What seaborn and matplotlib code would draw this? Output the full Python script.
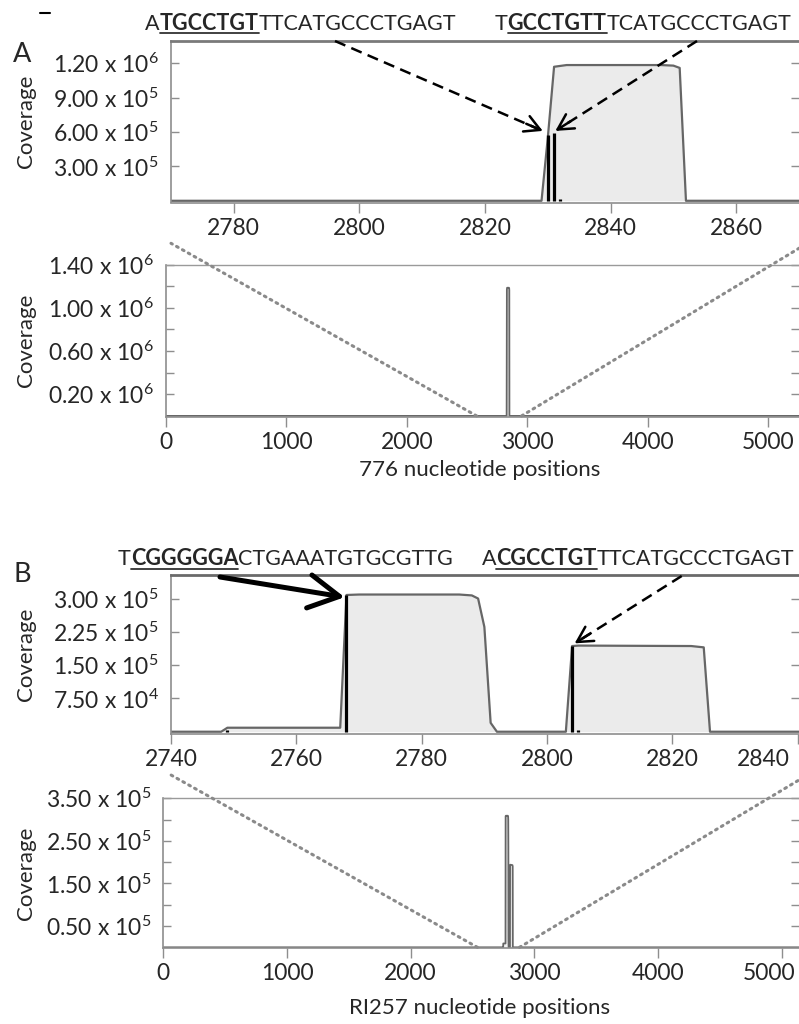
import numpy as np
import pandas as pd
import seaborn as sns
import matplotlib.pyplot as plt
from matplotlib.lines import Line2D

# ---------------- data ----------------
# Panel A (776): coverage near the 5' end and 5'-end read counts
a_cov_pos = [2770, 2829, 2830, 2831, 2833, 2848, 2850, 2851, 2852, 2870]
a_cov_val = [0, 0, 0.55e6, 1.17e6, 1.185e6, 1.185e6, 1.18e6, 1.16e6, 0, 0]
a_end_pos = [2830, 2831, 2832]
a_end_val = [5.7e5, 5.9e5, 0.12e5]
a_genome_end = 5257

# Panel B (RI257)
b_cov_pos = [2740, 2748, 2749, 2767, 2768, 2770, 2786, 2788, 2789, 2790, 2791, 2792,
             2803, 2804, 2805, 2823, 2825, 2826, 2845]
b_cov_val = [0, 0, 9e3, 9e3, 3.08e5, 3.09e5, 3.09e5, 3.07e5, 3.0e5, 2.36e5, 2.0e4, 0,
             0, 1.93e5, 1.94e5, 1.93e5, 1.90e5, 0, 0]
b_end_pos = [2749, 2768, 2804, 2805]
b_end_val = [4e3, 3.08e5, 1.93e5, 3e3]
b_genome_end = 5140

a_zoom_xticks = [2780, 2800, 2820, 2840, 2860]
b_zoom_xticks = [2740, 2760, 2780, 2800, 2820, 2840]
genome_xticks = [0, 1000, 2000, 3000, 4000, 5000]

a1_yticks = [3e5, 6e5, 9e5, 1.2e6]
a1_ylabels = ["3.00 x 10$^5$", "6.00 x 10$^5$", "9.00 x 10$^5$", "1.20 x 10$^6$"]
a2_yticks = [0.2e6, 0.4e6, 0.6e6, 0.8e6, 1.0e6, 1.2e6, 1.4e6]
a2_ylabels = ["0.20 x 10$^6$", "", "0.60 x 10$^6$", "", "1.00 x 10$^6$", "", "1.40 x 10$^6$"]
b1_yticks = [7.5e4, 1.5e5, 2.25e5, 3.0e5]
b1_ylabels = ["7.50 x 10$^4$", "1.50 x 10$^5$", "2.25 x 10$^5$", "3.00 x 10$^5$"]
b2_yticks = [0.5e5, 1.0e5, 1.5e5, 2.0e5, 2.5e5, 3.0e5, 3.5e5]
b2_ylabels = ["0.50 x 10$^5$", "", "1.50 x 10$^5$", "", "2.50 x 10$^5$", "", "3.50 x 10$^5$"]

# ---------------- style ----------------
sns.set_theme(style="white")
FONT = "Lato"
plt.rcParams["font.family"] = [FONT, "DejaVu Sans"]
plt.rcParams["mathtext.fontset"] = "custom"
plt.rcParams["mathtext.rm"] = FONT
plt.rcParams["mathtext.it"] = FONT
plt.rcParams["mathtext.bf"] = FONT + ":bold"

SPINE = "#8e8e8e"
GRAY = "#666666"
FILL = "#ebebeb"
DOT = "#8a8a8a"
FS = 16.5

W, H = 799, 1024
fig = plt.figure(figsize=(W / 100, H / 100), dpi=100)


def ax_px(left, top, right, bottom):
    return fig.add_axes([left / W, 1 - bottom / H, (right - left) / W, (bottom - top) / H])


def style(ax, top_lw, top_col):
    for s in ["left", "bottom"]:
        ax.spines[s].set_color(SPINE)
        ax.spines[s].set_linewidth(1.2)
    ax.spines["top"].set_color(top_col)
    ax.spines["top"].set_linewidth(top_lw)
    ax.spines["right"].set_visible(False)
    ax.tick_params(axis="y", which="both", direction="in", length=6, width=1,
                   left=True, right=True, color=SPINE, labelsize=FS, pad=9)
    ax.tick_params(axis="x", direction="out", length=7, width=1, bottom=True,
                   color=SPINE, labelsize=FS, pad=4)
    ax.set_xlabel("")
    ax.set_ylabel("")
    ax.grid(False)


axA1 = ax_px(171, 41, 799, 202.5)
axA2 = ax_px(166, 264.5, 799, 417)
axB1 = ax_px(171, 575, 799, 733.5)
axB2 = ax_px(163.3, 798.3, 799, 948)


def zoom_panel(ax, cpos, cval, epos, evals, xlim, ylim, xticks, yticks, ylabels):
    ax.fill_between(cpos, cval, 0, color=FILL, lw=0)
    sns.lineplot(x=cpos, y=cval, ax=ax, color=GRAY, lw=1.6, estimator=None, sort=False)
    ax.vlines(epos, 0, evals, color="black", lw=2.3)
    ax.set_xlim(*xlim)
    ax.set_ylim(*ylim)
    ax.set_xticks(xticks)
    ax.set_yticks(yticks)
    ax.set_yticklabels(ylabels)


def genome_panel(ax, cpos, cval, gend, ylim, yticks, ylabels):
    x = [0] + list(cpos) + [gend]
    y = [0] + list(cval) + [0]
    ax.fill_between(x, y, 0, color="#f4f4f4", lw=0)
    sns.lineplot(x=x, y=y, ax=ax, color=GRAY, lw=1.3, estimator=None, sort=False)
    ax.set_xlim(0, gend)
    ax.set_ylim(*ylim)
    ax.set_xticks(genome_xticks)
    ax.set_yticks(yticks)
    ax.set_yticklabels(ylabels)


zoom_panel(axA1, a_cov_pos, a_cov_val, a_end_pos, a_end_val, (2770, 2870),
           (-0.015e6, 1.395e6), a_zoom_xticks, a1_yticks, a1_ylabels)
genome_panel(axA2, a_cov_pos, a_cov_val, a_genome_end,
             (-0.01e6, 1.4e6), a2_yticks, a2_ylabels)
zoom_panel(axB1, b_cov_pos, b_cov_val, b_end_pos, b_end_val, (2740, 2840.2),
           (-4000, 3.53e5), b_zoom_xticks, b1_yticks, b1_ylabels)
genome_panel(axB2, b_cov_pos, b_cov_val, b_genome_end,
             (-1600, 3.5e5), b2_yticks, b2_ylabels)

style(axA1, 2.0, "#7a7a7a")
style(axA2, 1.0, "#9a9a9a")
style(axB1, 2.0, "#6a6a6a")
style(axB2, 1.0, "#9a9a9a")

# shifted last labels (as in the original)
axB1.set_xticklabels([str(t) for t in b_zoom_xticks[:-1]] + [""])
axB1.annotate(str(b_zoom_xticks[-1]), xy=(b_zoom_xticks[-1], 0), xycoords=("data", "axes fraction"),
              xytext=(-25, -11), textcoords="offset points", ha="center", va="top",
              fontsize=FS, annotation_clip=False)
axB2.set_xticklabels([str(t) for t in genome_xticks[:-1]] + [""])
axB2.annotate(str(genome_xticks[-1]), xy=(genome_xticks[-1], 0), xycoords=("data", "axes fraction"),
              xytext=(-9, -11), textcoords="offset points", ha="center", va="top",
              fontsize=FS, annotation_clip=False)


def fpx(x, y):
    return (x / W, 1 - y / H)


# y labels / x labels / panel letters
for yc in [121.5, 340, 654, 873]:
    fig.text(*fpx(26, yc), "Coverage", rotation=90, ha="center", va="center", fontsize=16)
fig.text(*fpx(480, 470), "776 nucleotide positions", ha="center", va="center", fontsize=16)
fig.text(*fpx(480, 1008), "RI257 nucleotide positions", ha="center", va="center", fontsize=16)
fig.text(*fpx(13, 62), "A", ha="left", va="baseline", fontsize=19.5)
fig.text(*fpx(14, 582), "B", ha="left", va="baseline", fontsize=19.5)
fig.add_artist(Line2D([40 / W, 50 / W], [1 - 12.5 / H] * 2, color="black", lw=1.5))

renderer = fig.canvas.get_renderer()


def seq_text(x, y_base, parts, size=15.5):
    y_ul = y_base + 3.5
    for s, bold in parts:
        t = fig.text(*fpx(x, y_base), s, ha="left", va="baseline", fontsize=size,
                     fontweight="bold" if bold else "normal")
        bb = t.get_window_extent(renderer)
        if bold:
            fig.add_artist(Line2D([bb.x0 / W, bb.x1 / W], [1 - y_ul / H] * 2,
                                  color="#333333", lw=1.3))
        x = bb.x1


seq_text(145, 29.5, [("A", False), ("TGCCTGT", True), ("TTCATGCCCTGAGT", False)])
seq_text(495, 29.5, [("T", False), ("GCCTGTT", True), ("TCATGCCCTGAGT", False)])
seq_text(118, 565, [("T", False), ("CGGGGGA", True), ("CTGAAATGTGCGTTG", False)])
seq_text(481.7, 565, [("A", False), ("CGCCTGT", True), ("TTCATGCCCTGAGT", False)])


# arrows
def arrow(ax, tip_data, start_px, dashed, lw, hl, hw):
    tx, ty = ax.transData.transform(tip_data)
    sx, sy = start_px[0], H - start_px[1]
    d = np.hypot(tx - sx, ty - sy)
    ux, uy = (tx - sx) / d, (ty - sy) / d
    if dashed:
        fig.add_artist(Line2D([sx / W, (tx - ux * 3) / W], [sy / H, (ty - uy * 3) / H],
                              color="black", lw=lw, ls=(0, (4.5, 2.6))))
        back = 18
        ax.annotate("", xy=(tx, ty), xycoords="figure pixels",
                    xytext=(tx - ux * back, ty - uy * back), textcoords="figure pixels",
                    arrowprops=dict(arrowstyle=f"->,head_length={hl},head_width={hw}",
                                    lw=lw, color="black", shrinkA=0, shrinkB=0,
                                    mutation_scale=20), annotation_clip=False)
    else:
        ax.annotate("", xy=(tx, ty), xycoords="figure pixels",
                    xytext=(sx, sy), textcoords="figure pixels",
                    arrowprops=dict(arrowstyle=f"->,head_length={hl},head_width={hw}",
                                    lw=lw, color="black", shrinkA=0, shrinkB=0,
                                    mutation_scale=20), annotation_clip=False)


arrow(axA1, (2829.2, 6.1e5), (335, 41), True, 1.8, 0.55, 0.3)
arrow(axA1, (2831.2, 6.1e5), (697, 41), True, 1.8, 0.55, 0.3)
arrow(axB1, (2767.7, 3.03e5), (220, 577), False, 3.6, 1.1, 0.6)
arrow(axB1, (2804.4, 1.99e5), (681.7, 576), True, 1.8, 0.55, 0.3)


# dotted zoom connectors
def connector(ax, data_pt, far_px, extend=False):
    tx, ty = ax.transData.transform(data_pt)
    fx, fy = far_px[0], H - far_px[1]
    if extend:
        fx, fy = tx + (fx - tx) * 1.3, ty + (fy - ty) * 1.3
    fig.add_artist(Line2D([tx / W, fx / W], [ty / H, fy / H], color=DOT, lw=2.2,
                          ls=(0, (0.6, 1.6)), dash_capstyle="round"))


connector(axA2, (2580, 0), (171, 243.3))
connector(axA2, (2953, 0), (799, 248.3), extend=True)
connector(axB2, (2540, 0), (171, 775))
connector(axB2, (2880, 0), (799, 780), extend=True)

fig.savefig("out.png", dpi=100)
